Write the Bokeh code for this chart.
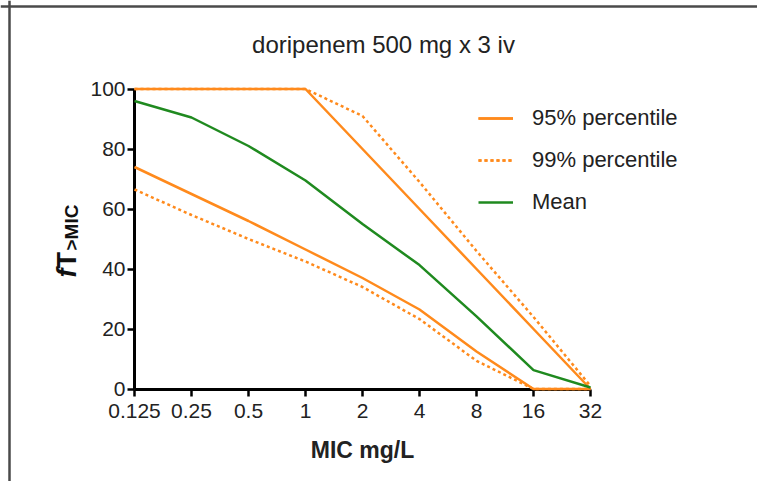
import math
from bokeh.plotting import figure
from bokeh.models import (Range1d, FixedTicker, Label, Legend, LegendItem, Span)
from bokeh.embed import file_html
from bokeh.resources import INLINE

# ---- data ----
mic_labels = ["0.125", "0.25", "0.5", "1", "2", "4", "8", "16", "32"]
p95_upper = [100, 100, 100, 100, 80, 60, 40, 20, 0]
p95_lower = [74, 65, 56, 46.5, 37, 26.5, 12.5, 0, 0]
p99_upper = [100, 100, 100, 100, 91, 69, 46, 24, 1]
p99_lower = [66.5, 58, 50, 42.5, 34, 23.3, 9.4, 0, 0]
mean_vals = [96, 90.5, 81, 69.5, 55, 41.3, 24.2, 6.3, 0.5]
y_ticks = [0, 20, 40, 60, 80, 100]

x_pos = list(range(len(mic_labels)))

ORANGE = "#FF8A1C"
GREEN = "#1F8A1F"
FONT = "Liberation Sans"

# plot area covers the whole canvas; axes are pinned at x=0 / y=0
W, H = 757, 481
X0, DX = 134.0, 57.0     # px of first category, px per category
Y0, DY = 388.5, 3.0      # px of y=0, px per unit


def xd(px):
    return (px - X0) / DX


def yd(py):
    return (Y0 - py) / DY


p = figure(width=W, height=H, output_backend="svg", toolbar_location=None,
           x_range=Range1d(xd(0), xd(W)), y_range=Range1d(yd(H), yd(0)),
           min_border=0)
p.min_border_left = p.min_border_right = p.min_border_top = p.min_border_bottom = 0
p.grid.visible = False
p.outline_line_color = None
p.background_fill_color = "white"
p.border_fill_color = "white"

# axes
xa = p.xaxis[0]
xa.fixed_location = 0
xa.bounds = (0, len(mic_labels) - 1)
xa.ticker = FixedTicker(ticks=x_pos)
xa.major_label_overrides = {i: lab for i, lab in zip(x_pos, mic_labels)}
ya = p.yaxis[0]
ya.fixed_location = 0
ya.bounds = (0, 100)
ya.ticker = FixedTicker(ticks=y_ticks)
for ax in (xa, ya):
    ax.axis_line_width = 3
    ax.axis_line_color = "black"
    ax.major_tick_line_width = 2.5
    ax.major_tick_line_color = "black"
    ax.major_tick_out = 7
    ax.major_tick_in = 0
    ax.minor_tick_line_color = None
    ax.major_label_text_font = FONT
    ax.major_label_text_font_size = "21px"
    ax.major_label_text_color = "#222222"
xa.major_label_standoff = 8
ya.major_label_standoff = 2
xa.axis_label = "MIC mg/L"
xa.axis_label_text_font = FONT
xa.axis_label_text_font_size = "23px"
xa.axis_label_text_font_style = "bold"
xa.axis_label_text_color = "#222222"
xa.axis_label_standoff = 15

# lines
r95u = p.line(x_pos, p95_upper, line_color=ORANGE, line_width=2.5, level="overlay")
r95l = p.line(x_pos, p95_lower, line_color=ORANGE, line_width=2.5, level="overlay")
r99u = p.line(x_pos, p99_upper, line_color=ORANGE, line_width=2.5, line_dash="3 3", level="overlay")
r99l = p.line(x_pos, p99_lower, line_color=ORANGE, line_width=2.5, line_dash="3 3", level="overlay")
rmean = p.line(x_pos, mean_vals, line_color=GREEN, line_width=2.5, level="overlay")

legend = Legend(items=[
    LegendItem(label="95% percentile", renderers=[r95u, r95l]),
    LegendItem(label="99% percentile", renderers=[r99u, r99l]),
    LegendItem(label="Mean", renderers=[rmean]),
], location=(478, 266), glyph_width=35, glyph_height=20, label_height=20,
    spacing=16, padding=0, margin=0, border_line_color=None,
    background_fill_alpha=0, label_standoff=19,
    label_text_font=FONT, label_text_font_size="22px", label_text_color="#222222")
p.add_layout(legend)

# title
p.add_layout(Label(x=xd(383), y=yd(44), text="doripenem 500 mg x 3 iv",
                   text_align="center", text_baseline="alphabetic", text_font=FONT,
                   text_font_size="24px", text_color="#222222"))

# y axis label  fT>MIC
p.add_layout(Label(x=xd(66), y=yd(277), text="f",
                   angle=math.pi / 2, text_align="left", text_baseline="alphabetic",
                   text_font=FONT, text_font_size="27px", text_font_style="bold italic",
                   text_color="#111111"))
p.add_layout(Label(x=xd(66), y=yd(268), text="T",
                   angle=math.pi / 2, text_align="left", text_baseline="alphabetic",
                   text_font=FONT, text_font_size="27px", text_font_style="bold",
                   text_color="#111111"))
p.add_layout(Label(x=xd(71), y=yd(250), text=">MIC",
                   angle=math.pi / 2, text_align="left", text_baseline="alphabetic",
                   text_font=FONT, text_font_size="19px", text_font_style="bold",
                   text_color="#111111"))

# outer frame edges (top and left)
p.add_layout(Span(location=xd(9), dimension="height", line_color="#4a4a4a", line_width=2.5))
p.add_layout(Span(location=yd(6), dimension="width", line_color="#4a4a4a", line_width=2.5))

open("out.html", "w").write(file_html(p, INLINE))
